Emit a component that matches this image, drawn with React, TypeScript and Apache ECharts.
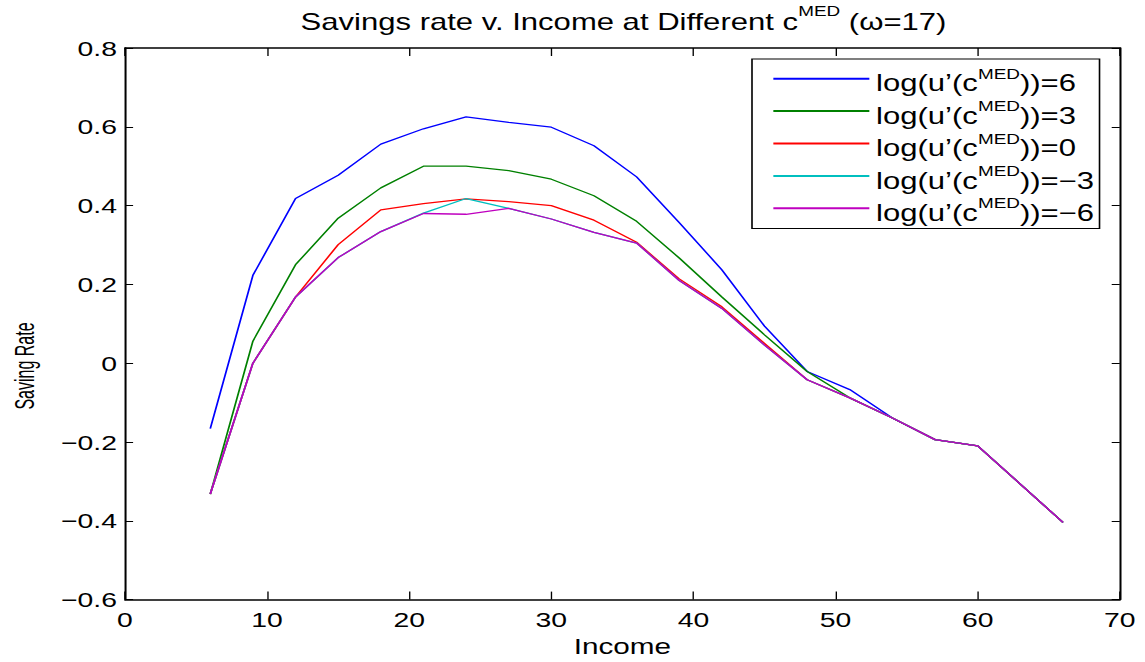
import React, { useEffect, useRef } from "react";
import * as echarts from "echarts";

// The reference figure is stretched horizontally; we reproduce that with a CSS scaleX.
const STRETCH = 1.35;
const PAGE_W = 1145;
const PAGE_H = 662;
const FONT = "'Liberation Sans', Arial, Helvetica, sans-serif";

const titleMain = "Savings rate v. Income at Different c";
const titleSup = "MED";
const titleTail = " (ω=17)";
const xAxisName = "Income";
const yAxisName = "Saving Rate";

const incomes = [6, 9, 12, 15, 18, 21, 24, 27, 30, 33, 36, 39, 42, 45, 48, 51, 54, 57, 60, 66];

const rateP6 = [-0.166, 0.223, 0.418, 0.477, 0.556, 0.595, 0.625, 0.611, 0.599, 0.552, 0.473, 0.357, 0.237, 0.094, -0.021, -0.067, -0.139, -0.194, -0.21, -0.404];
const rateP3 = [-0.332, 0.056, 0.25, 0.368, 0.445, 0.5, 0.5, 0.489, 0.467, 0.425, 0.36, 0.267, 0.168, 0.072, -0.021, -0.088, -0.139, -0.194, -0.21, -0.404];
const rate0 = [-0.332, 0.0, 0.168, 0.301, 0.389, 0.405, 0.417, 0.41, 0.4, 0.363, 0.307, 0.214, 0.143, 0.05, -0.042, -0.088, -0.139, -0.194, -0.21, -0.404];
const rateM3 = [-0.332, 0.0, 0.168, 0.268, 0.334, 0.381, 0.418, 0.393, 0.366, 0.332, 0.305, 0.21, 0.139, 0.046, -0.042, -0.088, -0.139, -0.194, -0.21, -0.404];
const rateM6 = [-0.332, 0.0, 0.168, 0.268, 0.334, 0.38, 0.378, 0.393, 0.366, 0.332, 0.305, 0.21, 0.139, 0.046, -0.042, -0.088, -0.139, -0.194, -0.21, -0.404];

const seriesNames = [
  "log(u’(cMED))=6",
  "log(u’(cMED))=3",
  "log(u’(cMED))=0",
  "log(u’(cMED))=−3",
  "log(u’(cMED))=−6",
];
const seriesValues = [rateP6, rateP3, rate0, rateM3, rateM6];
const seriesColors = ["#0000ff", "#008000", "#ff0000", "#00bfbf", "#bf00bf"];

const u = (px: number) => px / STRETCH; // convert page x-pixels to chart (unstretched) pixels

export default function App() {
  const ref = useRef<HTMLDivElement>(null);

  useEffect(() => {
    if (!ref.current) return;
    const chart = echarts.init(ref.current, null, { renderer: "svg" });

    const series = seriesNames.map((name, i) => ({
      name,
      type: "line",
      xAxisIndex: 0,
      yAxisIndex: 0,
      data: incomes.map((x, j) => [x, seriesValues[i][j]]),
      symbol: "none",
      showSymbol: false,
      lineStyle: { color: seriesColors[i], width: 1.3 },
      itemStyle: { color: seriesColors[i] },
      z: 2 + i,
    }));

    const axisLine = { show: true, onZero: false, lineStyle: { color: "#000", width: 1.5 } };

    chart.setOption({
      animation: false,
      backgroundColor: "#fff",
      title: {
        text: `{b|${titleMain}}{s|${titleSup}}{b|${titleTail}}`,
        left: u(300.6),
        top: 0,
        padding: 0,
        textStyle: {
          fontFamily: FONT,
          fontWeight: "normal",
          color: "#000",
          rich: {
            b: { fontSize: 23, lineHeight: 44, fontFamily: FONT, fontWeight: "normal", color: "#000" },
            s: { fontSize: 14, verticalAlign: "top", padding: [4.8, 0, 0, 0], fontFamily: FONT, fontWeight: "normal", color: "#000" },
          },
        },
      },
      graphic: [
        {
          type: "text",
          x: u(24.5),
          y: 366,
          rotation: Math.PI / 2,
          scaleY: 1.25,
          silent: true,
          style: {
            text: yAxisName,
            fontSize: 16,
            fontFamily: FONT,
            fill: "#000",
            align: "center",
            verticalAlign: "middle",
          },
        },
      ],
      legend: {
        data: seriesNames,
        orient: "vertical",
        left: u(752),
        top: 59,
        itemWidth: u(96),
        itemHeight: 2,
        itemGap: 0,
        padding: [3.5, 4, 4, u(20)],
        borderColor: "#000",
        borderWidth: 1.2,
        backgroundColor: "#fff",
        itemStyle: { opacity: 0 },
        formatter: (name: string) => {
          const [a, b] = name.split("MED");
          return `{b|${a}}{s|MED}{b|${b}}`;
        },
        textStyle: {
          fontFamily: FONT,
          color: "#000",
          rich: {
            b: { fontSize: 23, lineHeight: 33, padding: [9.4, 0, 0, 0], fontFamily: FONT, color: "#000" },
            s: { fontSize: 14, verticalAlign: "top", padding: [5, 0, 0, 0], fontFamily: FONT, color: "#000" },
          },
        },
      },
      grid: {
        left: u(125),
        right: u(PAGE_W - 1120),
        top: 48,
        bottom: PAGE_H - 603,
        containLabel: false,
      },
      xAxis: [
        {
          type: "value",
          position: "bottom",
          min: 0,
          max: 70,
          interval: 10,
          axisLine,
          axisTick: { inside: true, length: 8, lineStyle: { color: "#000", width: 1 } },
          axisLabel: { margin: 9.5, fontSize: 21, color: "#000", fontFamily: FONT },
          splitLine: { show: false },
          name: xAxisName,
          nameLocation: "middle",
          nameGap: 32,
          nameTextStyle: { fontSize: 22, color: "#000", fontFamily: FONT },
        },
        {
          type: "value",
          position: "top",
          min: 0,
          max: 70,
          interval: 10,
          axisLine,
          axisTick: { inside: true, length: 8, lineStyle: { color: "#000", width: 1 } },
          axisLabel: { show: false },
          splitLine: { show: false },
        },
      ],
      yAxis: [
        {
          type: "value",
          position: "left",
          min: -0.6,
          max: 0.8,
          interval: 0.2,
          axisLine,
          axisTick: { inside: true, length: 6, lineStyle: { color: "#000", width: 1 } },
          axisLabel: {
            margin: 6,
            fontSize: 21,
            color: "#000",
            fontFamily: FONT,
            formatter: (v: number) => (Math.abs(v) < 1e-9 ? "0" : v.toFixed(1).replace("-", "−")),
          },
          splitLine: { show: false },
        },
        {
          type: "value",
          position: "right",
          min: -0.6,
          max: 0.8,
          interval: 0.2,
          axisLine,
          axisTick: { inside: true, length: 6, lineStyle: { color: "#000", width: 1 } },
          axisLabel: { show: false },
          splitLine: { show: false },
        },
      ],
      series,
    });

    return () => chart.dispose();
  }, []);

  return (
    <div
      style={{
        position: "fixed",
        left: 0,
        top: 0,
        width: PAGE_W,
        height: PAGE_H,
        overflow: "hidden",
        background: "#fff",
      }}
    >
      <div
        ref={ref}
        style={{
          width: PAGE_W / STRETCH,
          height: PAGE_H,
          transform: `scaleX(${STRETCH})`,
          transformOrigin: "0 0",
        }}
      />
    </div>
  );
}
